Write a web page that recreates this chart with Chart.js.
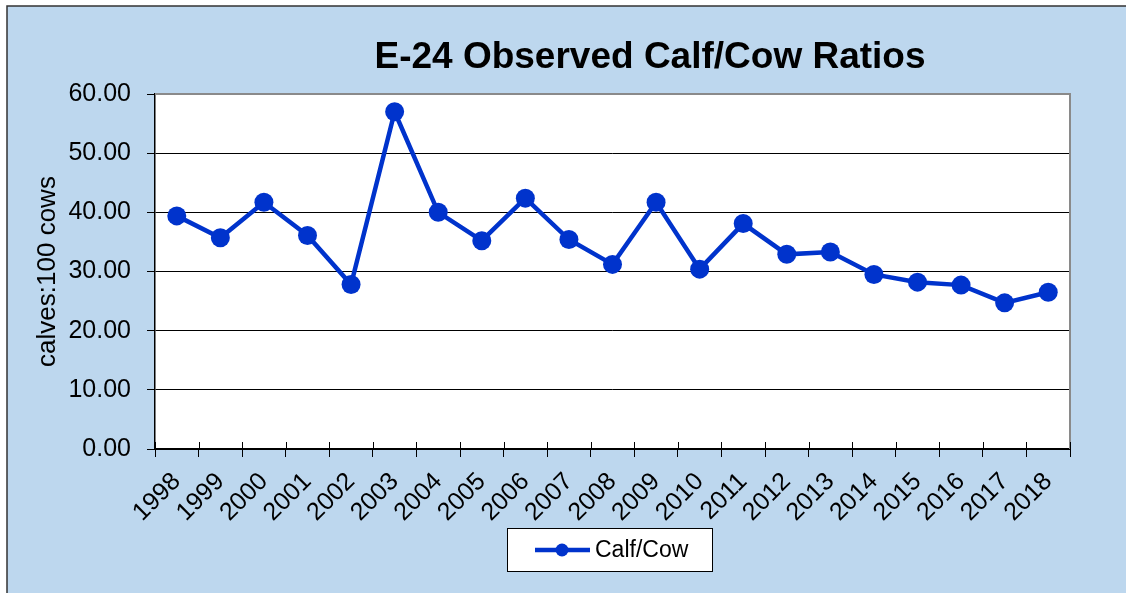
<!DOCTYPE html>
<html>
<head>
<meta charset="utf-8">
<script src="https://cdn.jsdelivr.net/npm/chart.js@4/dist/chart.umd.min.js"></script>
<style>
  html, body { margin: 0; padding: 0; background: #ffffff; }
  #wrap { width: 1126px; height: 593px; position: relative; }
</style>
</head>
<body>
<div id="wrap"><canvas id="c" width="1126" height="593"></canvas></div>
<script>
// ---- Data ----
const chartTitle = 'E-24 Observed Calf/Cow Ratios';
const yAxisTitle = 'calves:100 cows';
const seriesName = 'Calf/Cow';
const years = ['1998','1999','2000','2001','2002','2003','2004','2005','2006','2007','2008',
               '2009','2010','2011','2012','2013','2014','2015','2016','2017','2018'];
const calfCow = [39.4, 35.7, 41.7, 36.1, 27.8, 57.0, 40.0, 35.2, 42.4, 35.4, 31.2,
                 41.7, 30.4, 38.1, 32.9, 33.3, 29.5, 28.2, 27.7, 24.7, 26.5];
const yMin = 0, yMax = 60, yStep = 10;

// ---- Styles ----
const FONT = "Arial, 'Liberation Sans', Helvetica, sans-serif";
const PANEL_BG = '#bdd7ee';
const LINE_COLOR = '#0033cc';

const framePlugin = {
  id: 'frame',
  beforeDraw(chart) {
    const ctx = chart.ctx;
    const {left, top, right, bottom} = chart.chartArea;
    ctx.save();
    ctx.fillStyle = '#ffffff';
    ctx.fillRect(0, 0, chart.width, chart.height);
    ctx.fillStyle = PANEL_BG;
    ctx.fillRect(7, 6, chart.width + 10, chart.height + 10);
    ctx.strokeStyle = '#333333';
    ctx.lineWidth = 1.5;
    ctx.strokeRect(7, 6, chart.width + 10, chart.height + 10);
    ctx.fillStyle = '#ffffff';
    ctx.fillRect(left, top, right - left, bottom - top);
    ctx.restore();
  },
  afterDraw(chart) {
    const ctx = chart.ctx;
    const {left, top, right, bottom} = chart.chartArea;
    const xs = chart.scales.x;
    ctx.save();
    // gray top & right plot border
    ctx.strokeStyle = '#8a8a8a';
    ctx.lineWidth = 2;
    ctx.beginPath();
    ctx.moveTo(left, top);
    ctx.lineTo(right, top);
    ctx.lineTo(right, bottom);
    ctx.stroke();
    // inner part of crossing x tick marks
    ctx.strokeStyle = '#000';
    ctx.lineWidth = 1;
    const n = chart.data.labels.length;
    const step = xs.getPixelForValue(1) - xs.getPixelForValue(0);
    for (let i = 0; i <= n; i++) {
      const p = xs.getPixelForValue(Math.min(i, n - 1)) + (i < n ? -step / 2 : step / 2);
      const px = Math.round(p) + 0.5;
      ctx.beginPath();
      ctx.moveTo(px, bottom);
      ctx.lineTo(px, bottom - 7);
      ctx.stroke();
    }
    // title
    ctx.fillStyle = '#000';
    ctx.font = 'bold 37px ' + FONT;
    ctx.textAlign = 'center';
    ctx.textBaseline = 'middle';
    ctx.fillText(chartTitle, 650, 58);
    // legend
    const ds = chart.data.datasets[0];
    ctx.fillStyle = '#fff';
    ctx.fillRect(507, 528, 205, 43);
    ctx.strokeStyle = '#000';
    ctx.lineWidth = 1;
    ctx.strokeRect(507.5, 528.5, 205, 43);
    ctx.strokeStyle = ds.borderColor;
    ctx.lineWidth = 4.5;
    ctx.beginPath();
    ctx.moveTo(535, 550);
    ctx.lineTo(590, 550);
    ctx.stroke();
    ctx.fillStyle = ds.borderColor;
    ctx.beginPath();
    ctx.arc(562, 550, 6.5, 0, Math.PI * 2);
    ctx.fill();
    ctx.fillStyle = '#000';
    ctx.font = '23px ' + FONT;
    ctx.textAlign = 'left';
    ctx.textBaseline = 'middle';
    ctx.fillText(ds.label, 595, 551);
    ctx.restore();
  }
};

new Chart(document.getElementById('c'), {
  type: 'line',
  data: {
    labels: years,
    datasets: [{
      label: seriesName,
      data: calfCow,
      borderColor: LINE_COLOR,
      backgroundColor: LINE_COLOR,
      borderWidth: 4.5,
      pointRadius: 9.5,
      pointBorderWidth: 0,
      pointBackgroundColor: LINE_COLOR,
      pointHoverRadius: 9.5,
      tension: 0,
      fill: false
    }]
  },
  options: {
    responsive: false,
    animation: false,
    devicePixelRatio: 1,
    layout: { padding: { left: 0, right: 56, top: 94, bottom: 0 } },
    plugins: {
      legend: { display: false },
      title: { display: false },
      tooltip: { enabled: false }
    },
    scales: {
      x: {
        type: 'category',
        offset: true,
        afterFit(s) { s.height = 144; },
        grid: {
          display: true,
          offset: true,
          drawOnChartArea: false,
          drawTicks: true,
          tickLength: 8,
          tickColor: '#000',
          tickWidth: 1
        },
        border: { display: true, color: '#000', width: 2 },
        ticks: {
          autoSkip: false,
          maxRotation: 45,
          minRotation: 45,
          padding: 10,
          color: '#000',
          font: { family: FONT, size: 25 }
        }
      },
      y: {
        min: yMin,
        max: yMax,
        afterFit(s) { s.width = 155; },
        grid: {
          color: '#000',
          lineWidth: 1,
          drawTicks: true,
          tickLength: 8,
          tickColor: '#000'
        },
        border: { display: true, color: '#000', width: 1.5 },
        ticks: {
          stepSize: yStep,
          padding: 16,
          color: '#000',
          font: { family: FONT, size: 25 },
          callback: (v) => Number(v).toFixed(2)
        },
        title: {
          display: true,
          text: yAxisTitle,
          color: '#000',
          font: { family: FONT, size: 26 },
          padding: { top: 32, bottom: 0 }
        }
      }
    }
  },
  plugins: [framePlugin]
});
</script>
</body>
</html>
